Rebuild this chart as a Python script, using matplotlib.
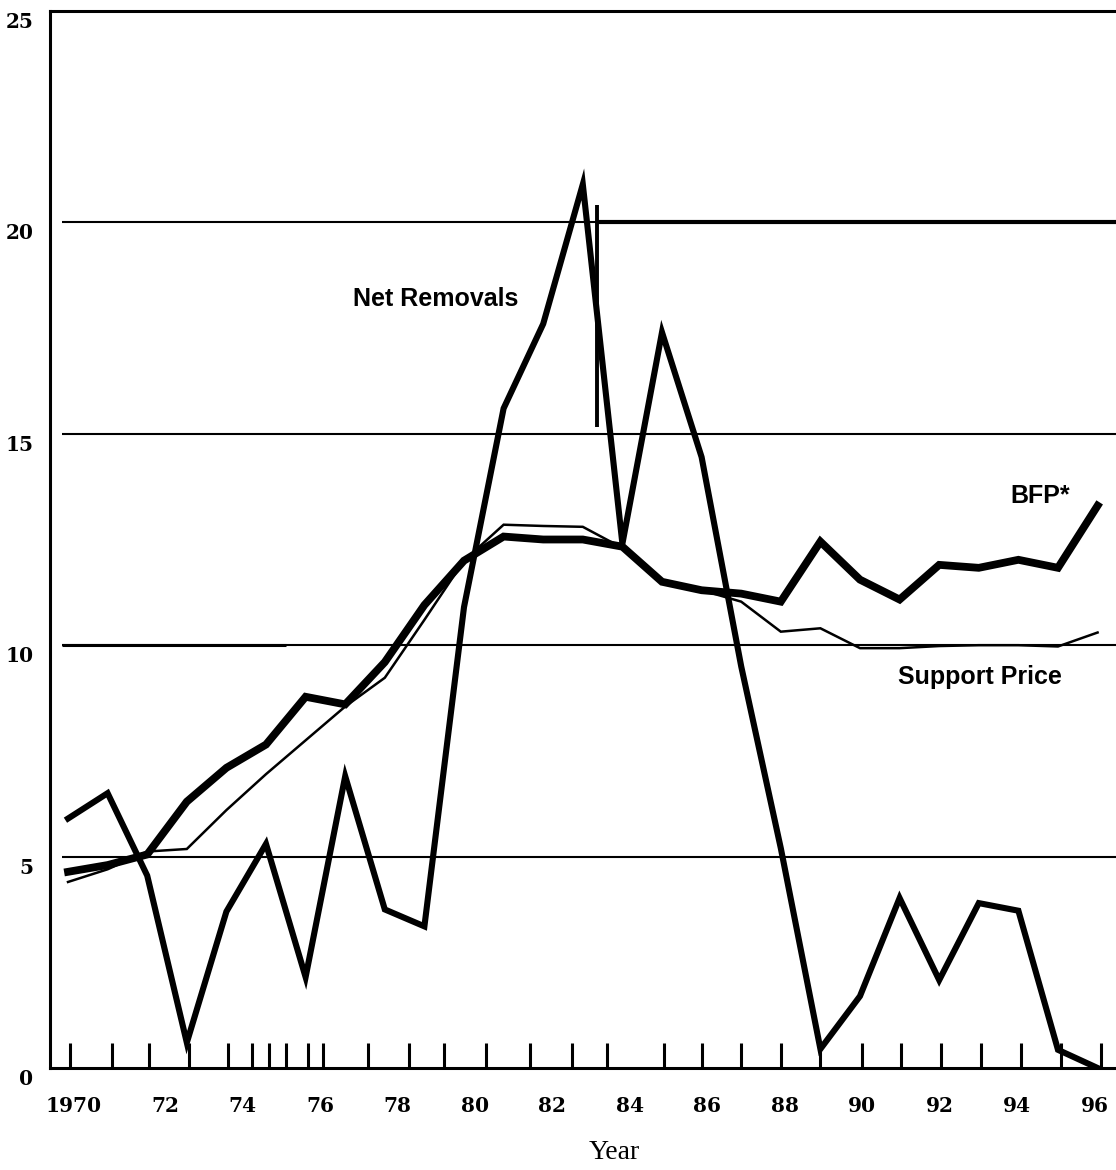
import matplotlib
matplotlib.use("Agg")
import matplotlib.pyplot as plt
from matplotlib.transforms import ScaledTranslation

years = list(range(1970, 1997))
net_removals = [5.9, 6.5, 4.55, 0.6, 3.7, 5.3, 2.15, 6.9, 3.75, 3.35, 10.9, 15.6, 17.6, 20.9,
                12.4, 17.4, 14.45, 9.5, 5.2, 0.45, 1.7, 4.02, 2.08, 3.9, 3.72, 0.43, 0.0]
bfp = [4.64, 4.8, 5.05, 6.3, 7.1, 7.65, 8.78, 8.6, 9.6, 10.95, 12.0, 12.57, 12.5, 12.5,
       12.33, 11.5, 11.3, 11.22, 11.03, 12.45, 11.55, 11.08, 11.9, 11.83, 12.02, 11.83, 13.3]
support_price = [4.4, 4.7, 5.12, 5.18, 6.1, 6.95, 7.75, 8.55, 9.23, 10.6, 12.0, 12.85, 12.82, 12.8,
                 12.3, 11.5, 11.3, 11.03, 10.32, 10.4, 9.93, 9.93, 9.98, 10.0, 10.0, 9.97, 10.3]
grid_values = [5, 10, 15, 20]
y_ticks = [0, 5, 10, 15, 20, 25]
x_label_years = [1970, 1972, 1974, 1976, 1978, 1980, 1982, 1984, 1986, 1988, 1990, 1992, 1994, 1996]
x_label_text = ["1970", "72", "74", "76", "78", "80", "82", "84", "86", "88", "90", "92", "94", "96"]
# stray vertical stroke in the original figure (year, bottom, top)
stroke = (1983.35, 15.15, 20.4)

fig = plt.figure(figsize=(11.16, 11.7), dpi=100)
ax = fig.add_axes([50/1116, 102/1170, 1066/1116, 1057/1170])
ax.set_xlim(1969.545, 1996.465)
ax.set_ylim(0, 25)

for s in ["left", "top", "bottom"]:
    ax.spines[s].set_linewidth(2.2)
    ax.spines[s].set_color("black")
ax.spines["right"].set_visible(False)

x0 = 1969.85
for g in grid_values:
    ax.hlines(g, x0, 1996.465, color="black", lw=1.5, zorder=1)
ax.hlines(20, 1983.35, 1996.465, color="black", lw=3.0, zorder=1)
ax.hlines(10, x0, 1975.5, color="black", lw=2.2, zorder=1)

ax.plot(years, support_price, color="black", lw=1.8, zorder=3, solid_joinstyle="miter")
ax.plot(years, bfp, color="black", lw=5.6, zorder=4, solid_joinstyle="miter")
ax.plot(years, net_removals, color="black", lw=4.4, zorder=5, solid_joinstyle="miter")
ax.vlines(stroke[0], stroke[1], stroke[2], color="black", lw=2.8, zorder=5)

# y ticks
ax.set_yticks(y_ticks)
ax.set_yticklabels([str(v) for v in y_ticks], fontfamily="DejaVu Serif",
                   fontweight="bold", fontsize=14.5)
ax.tick_params(axis="y", length=0, pad=12)
for lab in ax.get_yticklabels():
    lab.set_transform(lab.get_transform() + ScaledTranslation(0, -9/100, fig.dpi_scale_trans))

# x tick marks (upward) at the positions seen in the original
tick_pos = [1970.05, 1971.1, 1972.05, 1973.05, 1974.05, 1974.65, 1975.08, 1975.5, 1976.05,
            1976.43, 1977.58, 1978.61, 1979.5, 1980.56, 1981.67, 1982.73, 1983.61, 1985.05,
            1986.0, 1987.0, 1988.0, 1989.0, 1990.05, 1991.04, 1992.05, 1993.05, 1994.07,
            1995.07, 1996.08]
ax.set_xticks(tick_pos, minor=True)
ax.tick_params(axis="x", which="minor", direction="in", length=18, width=2.2, color="black")
label_pos = [y + (0.15 if y == 1970 else 0.45 - (y - 1972) * 0.022) for y in x_label_years]
ax.set_xticks(label_pos)
ax.set_xticklabels(x_label_text, fontfamily="DejaVu Serif", fontweight="bold", fontsize=14.5)
ax.tick_params(axis="x", which="major", length=0, pad=20)

ax.text(0.5295, -0.0795, "Year", transform=ax.transAxes, ha="center", va="center",
        fontfamily="Liberation Serif", fontsize=20)

ann = dict(fontfamily="Liberation Sans", fontweight="bold", fontsize=18, color="black",
           ha="center", va="center")
ax.text(1979.29, 18.18, "Net Removals", **ann)
ax.text(1994.55, 13.54, "BFP*", **ann)
ax.text(1993.03, 9.25, "Support Price", **ann)

fig.savefig("out.png", dpi=100)
